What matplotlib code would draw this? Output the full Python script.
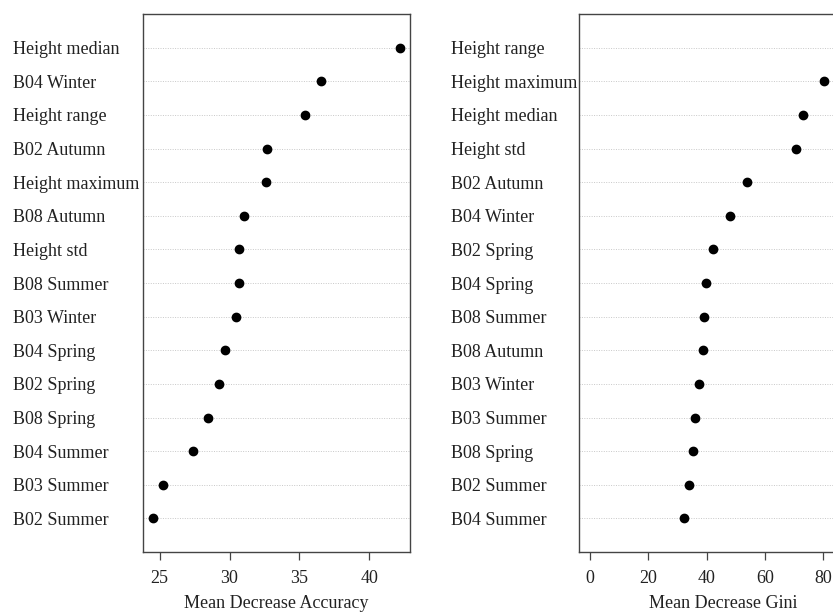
"""Variable importance dot charts (random forest style)."""

import matplotlib

matplotlib.use("Agg")
import matplotlib.pyplot as plt

# top to bottom, as drawn
acc_labels = [
    "Height median", "B04 Winter", "Height range", "B02 Autumn",
    "Height maximum", "B08 Autumn", "Height std", "B08 Summer",
    "B03 Winter", "B04 Spring", "B02 Spring", "B08 Spring",
    "B04 Summer", "B03 Summer", "B02 Summer",
]
acc_values = [42.2, 36.55, 35.43, 32.69, 32.62, 31.07, 30.71, 30.71,
              30.43, 29.69, 29.24, 28.43, 27.38, 25.24, 24.52]

gini_labels = [
    "Height range", "Height maximum", "Height median", "Height std",
    "B02 Autumn", "B04 Winter", "B02 Spring", "B04 Spring",
    "B08 Summer", "B08 Autumn", "B03 Winter", "B03 Summer",
    "B08 Spring", "B02 Summer", "B04 Summer",
]
gini_values = [91.7, 80.3, 72.9, 70.6, 53.7, 48.0, 42.3, 39.8,
               39.2, 38.9, 37.5, 36.0, 35.2, 33.8, 32.1]

acc_ticks = [25, 30, 35, 40]
gini_ticks = [0, 20, 40, 60, 80]

plt.rcParams["font.family"] = ["Liberation Serif", "DejaVu Serif"]
FS = 13
TXT = "#222222"

W, H = 833, 614
fig = plt.figure(figsize=(W / 100, H / 100), dpi=100)


def dotchart(rect, labels, values, xlo, ticks, xlabel, label_pad_px):
    ax = fig.add_axes(rect)
    n = len(values)
    ys = [n - i for i in range(n)]
    for y in ys:
        ax.axhline(y, color="#c8c8c8", linestyle=(0, (1, 1.5)), linewidth=0.7, zorder=1)
    ax.plot(values, ys, "o", color="black", markersize=6, zorder=3)

    hi = max(values)
    span = hi - xlo
    ax.set_xlim(xlo - 0.04 * span, hi + 0.04 * span)
    ax.set_ylim(0, n + 1)

    ax.set_yticks(ys)
    ax.set_yticklabels(labels, ha="left", fontsize=FS, color=TXT)
    ax.tick_params(axis="y", length=0, pad=label_pad_px * 72 / 100)

    ax.set_xticks(ticks)
    ax.set_xticklabels([str(t) for t in ticks], fontsize=FS, color=TXT)
    ax.tick_params(axis="x", length=6, width=0.9, color="#444444", pad=7)
    ax.set_xlabel(xlabel, fontsize=FS, color=TXT, labelpad=5.5)

    for s in ax.spines.values():
        s.set_color("#444444")
        s.set_linewidth(1.0)
    return ax


dotchart([143 / W, 62 / H, 267 / W, 538 / H], acc_labels, acc_values,
         min(acc_values), acc_ticks, "Mean Decrease Accuracy", 130)
dotchart([579.3 / W, 62 / H, 288.7 / W, 538 / H], gini_labels, gini_values,
         0, gini_ticks, "Mean Decrease Gini", 128.6)

fig.savefig("out.png", dpi=100)
plt.close(fig)
